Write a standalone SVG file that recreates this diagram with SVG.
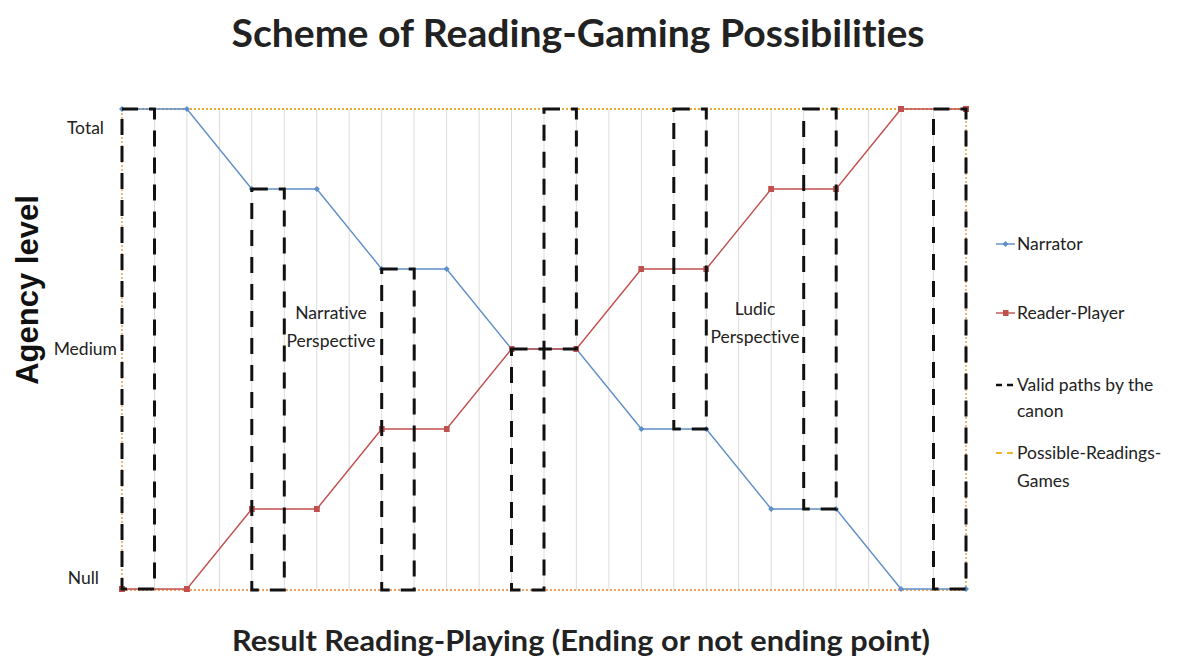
<svg xmlns="http://www.w3.org/2000/svg" width="1181" height="664" viewBox="0 0 1181 664">
<style>
.t{font-family:Lato,"Open Sans","Liberation Sans",sans-serif;fill:#222;font-variant-ligatures:none}
.lbl{font-size:17.5px}
.grid line{stroke:#dcdcdc;stroke-width:1}
.path{fill:none;stroke:#111;stroke-width:3;stroke-dasharray:16 11}
.narr{fill:none;stroke:#5E8FC8;stroke-width:1.4}
.read{fill:none;stroke:#C0504D;stroke-width:1.4}
</style>
<defs>
<marker id="mN" viewBox="0 0 6 6" refX="3" refY="3" markerWidth="6" markerHeight="6" markerUnits="userSpaceOnUse">
<path d="M3 0 L6 3 L3 6 L0 3 Z" fill="#5E8FC8"/>
</marker>
<marker id="mR" viewBox="0 0 6 6" refX="3" refY="3" markerWidth="6" markerHeight="6" markerUnits="userSpaceOnUse">
<rect x="0" y="0" width="6" height="6" fill="#C0504D"/>
</marker>
</defs>
<rect width="1181" height="664" fill="#fff"/>
<text class="t" x="578" y="47" font-size="38" font-weight="bold" text-anchor="middle" textLength="693" lengthAdjust="spacingAndGlyphs">Scheme of Reading-Gaming Possibilities</text>
<g id="gridlines" class="grid">
<line x1="154.5" y1="109" x2="154.5" y2="590"/><line x1="186.9" y1="109" x2="186.9" y2="590"/><line x1="219.4" y1="109" x2="219.4" y2="590"/><line x1="251.8" y1="109" x2="251.8" y2="590"/><line x1="284.3" y1="109" x2="284.3" y2="590"/><line x1="316.8" y1="109" x2="316.8" y2="590"/><line x1="349.2" y1="109" x2="349.2" y2="590"/><line x1="381.7" y1="109" x2="381.7" y2="590"/><line x1="414.1" y1="109" x2="414.1" y2="590"/><line x1="446.6" y1="109" x2="446.6" y2="590"/><line x1="479.1" y1="109" x2="479.1" y2="590"/><line x1="511.5" y1="109" x2="511.5" y2="590"/><line x1="544" y1="109" x2="544" y2="590"/><line x1="576.4" y1="109" x2="576.4" y2="590"/><line x1="608.9" y1="109" x2="608.9" y2="590"/><line x1="641.4" y1="109" x2="641.4" y2="590"/><line x1="673.8" y1="109" x2="673.8" y2="590"/><line x1="706.3" y1="109" x2="706.3" y2="590"/><line x1="738.7" y1="109" x2="738.7" y2="590"/><line x1="771.2" y1="109" x2="771.2" y2="590"/><line x1="803.7" y1="109" x2="803.7" y2="590"/><line x1="836.1" y1="109" x2="836.1" y2="590"/><line x1="868.6" y1="109" x2="868.6" y2="590"/><line x1="901" y1="109" x2="901" y2="590"/><line x1="933.5" y1="109" x2="933.5" y2="590"/>
</g>
<g id="possible-readings">
<line x1="122" y1="109" x2="966" y2="109" stroke="#EBAA2F" stroke-width="2" stroke-dasharray="2 2"/>
<line x1="122" y1="590" x2="966" y2="590" stroke="#F0A060" stroke-width="2" stroke-dasharray="2 2"/>
<line x1="122" y1="109" x2="122" y2="590" stroke="#E9A050" stroke-width="1.5" stroke-dasharray="2 2"/>
<line x1="966" y1="109" x2="966" y2="590" stroke="#E9A050" stroke-width="1.5" stroke-dasharray="2 2"/>
</g>
<g id="axis-labels">
<text class="t lbl" x="104" y="134" text-anchor="end">Total</text>
<text class="t lbl" x="117" y="355" text-anchor="end">Medium</text>
<text class="t lbl" x="99" y="584" text-anchor="end">Null</text>
<text x="38" y="290" transform="rotate(-90 38 290)" font-family="'Liberation Sans',Arial,sans-serif" font-weight="bold" font-size="31" text-anchor="middle" fill="#111">Agency level</text>
<text class="t" x="581" y="651" font-size="29" font-weight="bold" text-anchor="middle" textLength="698" lengthAdjust="spacingAndGlyphs">Result Reading-Playing (Ending or not ending point)</text>
</g>
<g id="narrator">
<polyline class="narr" points="122,109 186.9,109 251.8,189 316.8,189 381.7,269 446.6,269 511.5,349 576.4,349 641.4,429 706.3,429 771.2,509 836.1,509 901,589 966,589" marker-start="url(#mN)" marker-mid="url(#mN)" marker-end="url(#mN)"/>
</g>
<g id="reader-player">
<polyline class="read" points="122,589 186.9,589 251.8,509 316.8,509 381.7,429 446.6,429 511.5,349 576.4,349 641.4,269 706.3,269 771.2,189 836.1,189 901,109 966,109" marker-start="url(#mR)" marker-mid="url(#mR)" marker-end="url(#mR)"/>
</g>
<g id="valid-paths">
<rect class="path" x="122" y="109" width="32.5" height="480"/>
<rect class="path" x="251.8" y="189" width="32.5" height="401"/>
<rect class="path" x="381.7" y="269" width="32.5" height="321"/>
<rect class="path" x="511.5" y="349" width="32.5" height="241"/>
<rect class="path" x="544" y="109" width="32.4" height="240"/>
<rect class="path" x="673.8" y="109" width="32.5" height="320"/>
<rect class="path" x="803.7" y="109" width="32.5" height="400"/>
<rect class="path" x="933.5" y="109" width="32.5" height="480"/>
</g>
<g id="perspective-labels">
<text class="t lbl" x="331" y="319" text-anchor="middle">Narrative</text>
<text class="t lbl" x="331" y="347" text-anchor="middle">Perspective</text>
<text class="t lbl" x="755" y="315" text-anchor="middle">Ludic</text>
<text class="t lbl" x="755" y="343" text-anchor="middle">Perspective</text>
</g>
<g id="legend">
<polyline points="996,244 1005.5,244 1015,244" class="narr" marker-mid="url(#mN)"/>
<text class="t lbl" x="1017" y="250">Narrator</text>
<polyline points="996,313 1005.5,313 1015,313" class="read" marker-mid="url(#mR)"/>
<text class="t lbl" x="1017" y="319">Reader-Player</text>
<line x1="996" y1="385" x2="1014" y2="385" stroke="#111" stroke-width="2.5" stroke-dasharray="6 5"/>
<text class="t lbl" x="1017" y="391">Valid paths by the</text>
<text class="t lbl" x="1017" y="417">canon</text>
<line x1="996" y1="453" x2="1014" y2="453" stroke="#F2B534" stroke-width="2" stroke-dasharray="6 5"/>
<text class="t lbl" x="1017" y="459">Possible-Readings-</text>
<text class="t lbl" x="1017" y="487">Games</text>
</g>
</svg>
